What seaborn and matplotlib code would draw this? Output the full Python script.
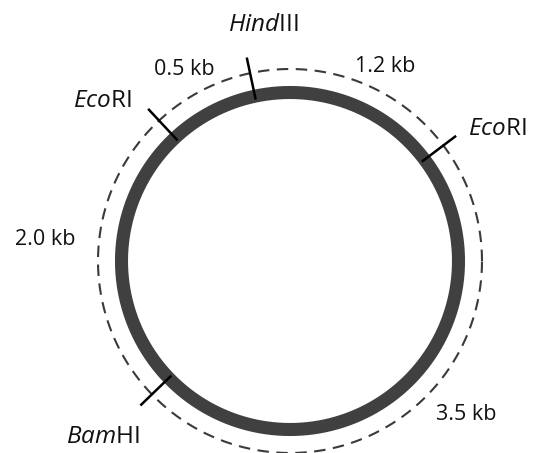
import numpy as np
import pandas as pd
import matplotlib
matplotlib.use("Agg")
import matplotlib.pyplot as plt
import seaborn as sns

# restriction sites, angle in degrees (ccw from 3 o'clock)
site_labels = [r"$\mathit{Hind}$III", r"$\mathit{Eco}$RI", r"$\mathit{Eco}$RI", r"$\mathit{Bam}$HI"]
site_angles = [102, 133, 37, 224]

# fragment sizes between sites and where their labels sit
fragment_labels = ["0.5 kb", "1.2 kb", "2.0 kb", "3.5 kb"]
fragment_angles = [119, 64, 175, 319]

# layout (pixel space)
cx, cy = 290, 261
r_band, r_dash = 168.5, 192
r_tick_in, r_tick_out = 165, 208
site_label_angles = [96.5, 139.6, 32.4, 223.3]
site_label_r = [238, 247, 246, 257]
fragment_label_r = [219, 216, 246, 234]

sns.set_theme(style="white")
plt.rcParams["font.family"] = ["Open Sans", "DejaVu Sans"]
plt.rcParams["mathtext.fontset"] = "custom"
plt.rcParams["mathtext.it"] = "Open Sans:italic"
plt.rcParams["mathtext.rm"] = "Open Sans"

fig = plt.figure(figsize=(5.43, 4.53), dpi=100)
ax = fig.add_axes([0, 0, 1, 1])
ax.set_xlim(0, 543)
ax.set_ylim(453, 0)
ax.set_aspect("equal")
ax.axis("off")

t = np.linspace(0, 2 * np.pi, 721)
band = pd.DataFrame({"x": cx + r_band * np.cos(t), "y": cy - r_band * np.sin(t)})
dash = pd.DataFrame({"x": cx + r_dash * np.cos(t), "y": cy - r_dash * np.sin(t)})

sns.lineplot(data=dash, x="x", y="y", sort=False, estimator=None, ax=ax,
             color="#3a3a3a", lw=1.5)
ax.lines[-1].set_dashes([5.5, 3.6])
sns.lineplot(data=band, x="x", y="y", sort=False, estimator=None, ax=ax,
             color="#404040", lw=9.4)

txt_color = "#111111"

for a in site_angles:
    th = np.deg2rad(a)
    ax.plot([cx + r_tick_in * np.cos(th), cx + r_tick_out * np.cos(th)],
            [cy - r_tick_in * np.sin(th), cy - r_tick_out * np.sin(th)],
            color="black", lw=1.8, solid_capstyle="butt")

for lab, a, lr in zip(site_labels, site_label_angles, site_label_r):
    th = np.deg2rad(a)
    ax.text(cx + lr * np.cos(th), cy - lr * np.sin(th), lab,
            ha="center", va="center", fontsize=17.5, color=txt_color)

for lab, a, lr in zip(fragment_labels, fragment_angles, fragment_label_r):
    th = np.deg2rad(a)
    ax.text(cx + lr * np.cos(th), cy - lr * np.sin(th), lab,
            ha="center", va="center", fontsize=15.5, color=txt_color)

fig.savefig("out.png", dpi=100, facecolor="white")
